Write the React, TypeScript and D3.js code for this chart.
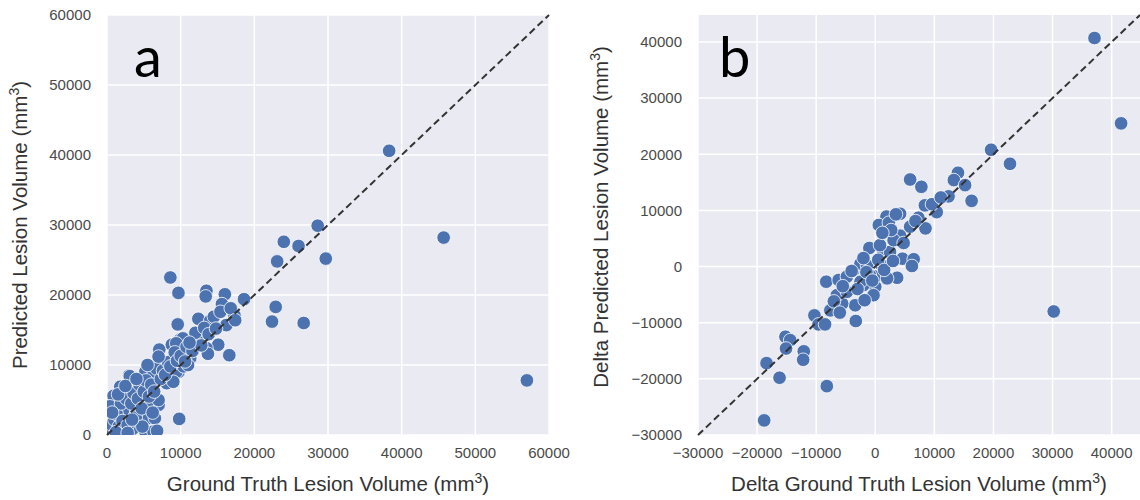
import { FC, useEffect, useRef } from 'react';
import * as d3 from 'd3';

// panel a: ground truth vs predicted lesion volume (mm3)
const volumePairs: [number, number][] = [
  [38300, 40600], [45700, 28200], [57000, 7800], [28600, 29900], [24000, 27600], [26000, 27000],
  [23100, 24800], [29700, 25200], [22900, 18300], [22400, 16200], [26700, 16000],
  [8600, 22500], [9700, 20300], [13500, 20600], [13400, 19800], [16000, 20100], [18600, 19400],
  [15600, 18700], [17300, 17100], [12400, 16600], [14000, 16300], [16200, 15700], [9600, 15800],
  [15100, 12900], [16600, 11400], [7100, 12200], [10400, 12100], [13500, 12400], [13700, 11600],
  [3000, 8500], [900, 5600], [9800, 2300], [3500, 900], [7000, 4300], [5600, 4800], [9700, 9000],
  [11300, 11000], [12600, 13800], [9900, 13600], [9000, 11000],
  [8800, 12900], [10300, 13800], [12200, 13800], [12400, 13300], [3100, 8400], [5200, 9000],
  [6300, 8600], [8100, 9500], [7200, 10700], [9400, 9000], [10400, 9800], [1800, 6900],
  [4500, 6400], [5800, 6900], [7000, 5000], [2400, 2600], [400, 4100], [4000, 3600],
  [5600, 2400], [6500, 2400], [5200, 500], [6300, 500], [400, 1000], [2200, 3600],
  [8100, 7400], [9000, 7600], [11000, 10000], [9400, 13100],
  [200, 300], [600, 1500], [1000, 2200], [1300, 3000], [1600, 1200], [1900, 4500], [2100, 2000],
  [2600, 5200], [2800, 1400], [3300, 4500], [3600, 6000], [3900, 2500], [4200, 5200], [4400, 7200],
  [4700, 3800], [5000, 6200], [5300, 7800], [5700, 5500], [6000, 7200], [6400, 6200], [6700, 9500],
  [7300, 8000], [7600, 9200], [7900, 8600], [8300, 10400], [8600, 9800], [9200, 11800],
  [9500, 10600], [10000, 11300], [10800, 12600], [11600, 12000], [12000, 14600], [12800, 12800],
  [13200, 15300], [13800, 14400], [14500, 16900], [14800, 15200], [15400, 17600], [16800, 18100],
  [17400, 16400], [11200, 13200], [10600, 10500], [6200, 3200], [4800, 1200], [1200, 400],
  [2800, 300], [3400, 2200], [6800, 600], [1500, 5800], [700, 3200], [2500, 7000], [5500, 10000],
  [7000, 11200], [4000, 8000],
];

// panel b: delta ground truth vs delta predicted lesion volume (mm3)
const deltaPairs: [number, number][] = [
  [37100, 40700], [41600, 25500], [30200, -8000], [19600, 20800], [22800, 18300], [5900, 15500],
  [7800, 14200], [14000, 16700], [13300, 15400], [15200, 14500], [16300, 11700], [12400, 12500],
  [10400, 9700], [8400, 10900], [4200, 9400], [1900, 8900], [600, 7400], [2300, 7800],
  [5900, 7100], [8500, 6800], [7300, 8700], [-1000, 3300], [4200, 5500], [1400, 2600],
  [4600, 1400], [6500, 1300], [6200, 100], [3700, -2000], [-8300, -2700], [-6200, -2400],
  [-4800, -1800], [-3700, -700], [-2500, 500], [0, -3600], [-2000, -3300], [-3400, -6900],
  [-5600, -6600], [-6500, -5100], [-3300, -9700], [-10300, -8700], [-9600, -10300],
  [-8500, -10300], [-7600, -7800], [-15200, -12500], [-14400, -13100], [-15100, -14600],
  [-12100, -15100], [-12200, -16600], [-18400, -17200], [-16200, -19800], [-8200, -21300],
  [-18800, -27400], [0, -1800], [1100, 200], [2500, 2600], [3100, 4700], [-1400, 200],
  [-900, -1600], [-4800, -4500], [-2500, -2700], [2000, -2100], [-300, -5100],
  [-1500, -1000], [500, 1200], [1500, -600], [3000, 1000], [-2000, 1500], [800, 3800],
  [2700, 6500], [4800, 4200], [-500, -2500], [-3000, -4000], [-5500, -3500], [-7000, -6200],
  [9600, 11100], [11100, 12300], [6800, 8100], [3500, 9300], [1200, 6000], [-4000, -800],
  [-1800, -6000], [-6000, -8200],
];

const volumeTicks = [0, 10000, 20000, 30000, 40000, 50000, 60000];
const deltaTicks = [-30000, -20000, -10000, 0, 10000, 20000, 30000, 40000];
const volumeDomain: [number, number] = [0, 60000];
const deltaDomain: [number, number] = [-30000, 44800];

interface PanelSpec {
  letter: string;
  data: [number, number][];
  ticks: number[];
  domain: [number, number];
  xTitle: string;
  yTitle: string;
  left: number;
  right: number;
}

const panels: PanelSpec[] = [
  {
    letter: 'a', data: volumePairs, ticks: volumeTicks, domain: volumeDomain,
    xTitle: 'Ground Truth Lesion Volume (mm', yTitle: 'Predicted Lesion Volume (mm',
    left: 107, right: 549,
  },
  {
    letter: 'b', data: deltaPairs, ticks: deltaTicks, domain: deltaDomain,
    xTitle: 'Delta Ground Truth Lesion Volume (mm', yTitle: 'Delta Predicted Lesion Volume (mm',
    left: 698, right: 1140,
  },
];

const top = 15;
const bottom = 435;
const font = '"Liberation Sans", Arial, sans-serif';

const App: FC = () => {
  const ref = useRef<SVGSVGElement | null>(null);

  useEffect(() => {
    const svg = d3.select(ref.current);
    svg.selectAll('*').remove();

    svg.append('rect').attr('width', 1140).attr('height', 500).attr('fill', 'white');

    panels.forEach(p => {
      const x = d3.scaleLinear().domain(p.domain).range([p.left, p.right]);
      const y = d3.scaleLinear().domain(p.domain).range([bottom, top]);
      const g = svg.append('g');

      g.append('rect')
        .attr('x', p.left)
        .attr('y', top)
        .attr('width', p.right - p.left)
        .attr('height', bottom - top)
        .attr('fill', '#EAEAF2');

      // grid
      g.selectAll('.vgrid')
        .data(p.ticks)
        .enter()
        .append('line')
        .attr('x1', d => x(d))
        .attr('x2', d => x(d))
        .attr('y1', top)
        .attr('y2', bottom)
        .attr('stroke', 'white')
        .attr('stroke-width', 1.5);

      g.selectAll('.hgrid')
        .data(p.ticks)
        .enter()
        .append('line')
        .attr('x1', p.left)
        .attr('x2', p.right)
        .attr('y1', d => y(d))
        .attr('y2', d => y(d))
        .attr('stroke', 'white')
        .attr('stroke-width', 1.5);

      // tick labels
      g.selectAll('.xtick')
        .data(p.ticks)
        .enter()
        .append('text')
        .attr('x', d => x(d))
        .attr('y', bottom + 23)
        .attr('text-anchor', 'middle')
        .attr('font-family', font)
        .attr('font-size', 15)
        .attr('fill', '#4a4a4a')
        .text(d => d3.format('d')(d).replace('-', '\u2212'));

      g.selectAll('.ytick')
        .data(p.ticks)
        .enter()
        .append('text')
        .attr('x', p.left - 16)
        .attr('y', d => y(d))
        .attr('dy', '0.35em')
        .attr('text-anchor', 'end')
        .attr('font-family', font)
        .attr('font-size', 15)
        .attr('fill', '#4a4a4a')
        .text(d => d3.format('d')(d).replace('-', '\u2212'));

      // points
      const clip = `clip-${p.letter}`;
      svg.append('clipPath')
        .attr('id', clip)
        .append('rect')
        .attr('x', p.left)
        .attr('y', top)
        .attr('width', p.right - p.left)
        .attr('height', bottom - top);

      g.append('g')
        .attr('clip-path', `url(#${clip})`)
        .selectAll('circle')
        .data(p.data)
        .enter()
        .append('circle')
        .attr('cx', d => x(d[0]))
        .attr('cy', d => y(d[1]))
        .attr('r', 6.8)
        .attr('fill', '#4C72B0')
        .attr('stroke', 'white')
        .attr('stroke-width', 0.8);

      // identity line
      g.append('line')
        .attr('x1', x(p.domain[0]))
        .attr('y1', y(p.domain[0]))
        .attr('x2', x(p.domain[1]))
        .attr('y2', y(p.domain[1]))
        .attr('stroke', '#333')
        .attr('stroke-width', 2)
        .attr('stroke-dasharray', '7,4');

      // panel letter
      g.append('text')
        .attr('x', p.left + (p.letter === 'a' ? 27 : 21))
        .attr('y', 77)
        .attr('font-family', 'Lato, "Open Sans", sans-serif')
        .attr('font-size', 56)
        .attr('fill', 'black')
        .text(p.letter);

      // axis titles
      const xt = g.append('text')
        .attr('x', (p.left + p.right) / 2)
        .attr('y', 491)
        .attr('text-anchor', 'middle')
        .attr('font-family', font)
        .attr('font-size', 20.5)
        .attr('fill', '#333');
      xt.append('tspan').text(p.xTitle);
      xt.append('tspan').attr('dy', -8).attr('font-size', 14).text('3');
      xt.append('tspan').attr('dy', 8).text(')');

      const yt = g.append('text')
        .attr('transform', `translate(${p.left - (p.letter === 'a' ? 80 : 90)},${(top + bottom) / 2 - (p.letter === 'a' ? 0 : 8)}) rotate(-90)`)
        .attr('text-anchor', 'middle')
        .attr('font-family', font)
        .attr('font-size', 20.5)
        .attr('fill', '#333');
      yt.append('tspan').text(p.yTitle);
      yt.append('tspan').attr('dy', -8).attr('font-size', 14).text('3');
      yt.append('tspan').attr('dy', 8).text(')');
    });
  }, []);

  return (
    <svg
      ref={ref}
      width={1140}
      height={500}
      style={{ position: 'absolute', left: 0, top: 0 }}
    />
  );
};

export default App;
